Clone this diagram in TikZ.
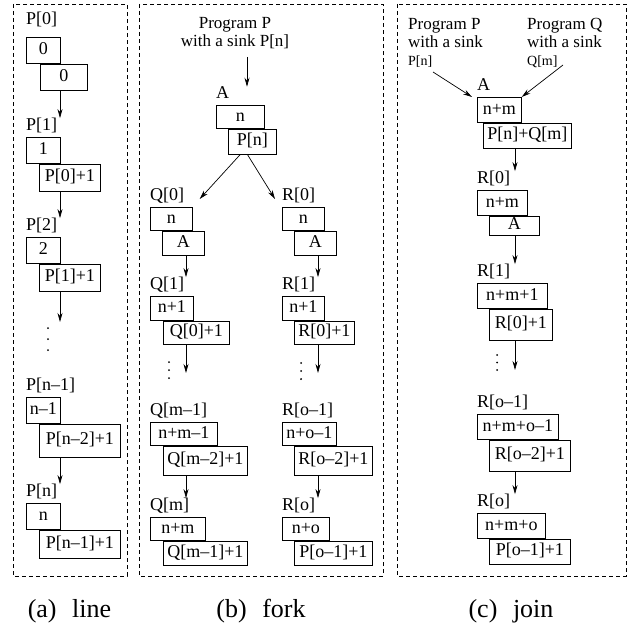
\documentclass[tikz,border=0pt]{standalone}
\usepackage{fontspec}
\setmainfont{Liberation Serif}
\usetikzlibrary{arrows.meta, positioning}

\begin{document}
\begin{tikzpicture}[
    x=1pt, y=1pt,
    box/.style={rectangle, draw, line width=0.7pt, inner sep=0pt, text height=12pt, text depth=3.5pt, anchor=north west, font=\fontsize{18}{19}\selectfont},
    sz/.style 2 args={minimum width=#1pt, minimum height=#2pt},
    lbl/.style={inner sep=0pt, text depth=3pt, font=\fontsize{18}{19}\selectfont},
    prog/.style={inner sep=0pt, font=\fontsize{17}{18}\selectfont},
    arrow/.style={-{Stealth[length=9pt, width=5pt]}, line width=0.7pt},
    frame/.style={dash pattern=on 4pt off 3pt, line width=0.6pt},
    captxt/.style={anchor=base, font=\fontsize{26}{28}\selectfont}
]
\useasboundingbox (0,0) rectangle (629,-626);

% frames
\draw[frame] (13,-4) rectangle (127,-576);
\draw[frame] (139,-4) rectangle (383,-576);
\draw[frame] (397,-4) rectangle (626,-576);

% (a) line
\node[box, sz={34}{26}] (p0a) at (26,-37) {0};
\node[box, sz={47}{26}, below right=0pt and 14pt of p0a.south west] (p0b) {0};
\node[lbl, above right=9pt and 0pt of p0a.north west] (p0l) {P[0]};

\node[box, sz={34}{26}] (p1a) at (26,-137) {1};
\node[box, sz={61}{27}, below right=0pt and 13pt of p1a.south west] (p1b) {P[0]+1};
\node[lbl, above right=3pt and 0pt of p1a.north west] (p1l) {P[1]};

\node[box, sz={34}{26}] (p2a) at (26,-237) {2};
\node[box, sz={61}{27}, below right=0pt and 13pt of p2a.south west] (p2b) {P[1]+1};
\node[lbl, above right=3pt and 0pt of p2a.north west] (p2l) {P[2]};

\coordinate (pdots) at (48,-328);
\fill (pdots) circle (1pt) ([yshift=-11pt]pdots) circle (1pt) ([yshift=-22pt]pdots) circle (1pt);

\node[box, sz={34}{26}] (pma) at (26,-397) {n--1};
\node[box, sz={81}{33}, below right=0pt and 13pt of pma.south west] (pmb) {P[n--2]+1};
\node[lbl, above right=3pt and 0pt of pma.north west] (pml) {P[n--1]};

\node[box, sz={34}{26}] (pna) at (26,-503) {n};
\node[box, sz={81}{28}, below right=0pt and 13pt of pna.south west] (pnb) {P[n--1]+1};
\node[lbl, above right=3pt and 0pt of pna.north west] (pnl) {P[n]};

\coordinate (px) at (60,0);
\coordinate (pend) at (60,-322);
\draw[arrow] (px |- p0b.south) -- (px |- p1l.north);
\draw[arrow] (px |- p1b.south) -- (px |- p2l.north);
\draw[arrow] (px |- p2b.south) -- (pend);
\draw[arrow] (px |- pmb.south) -- (px |- pnl.north);

% (b) fork
\node[prog, align=center, anchor=north] (progb) at (235,-17) {Program P\\with a sink P[n]};
\coordinate (inb) at (247,-57);

\node[box, sz={48}{23}] (ba) at (216,-105) {n};
\node[box, sz={48}{25}, below right=0pt and 12pt of ba.south west] (bb) {P[n]};
\node[lbl, above right=3pt and 0pt of ba.north west] (bal) {A};

\node[box, sz={42}{23}] (q0a) at (150,-207) {n};
\node[box, sz={42}{24}, below right=0pt and 12pt of q0a.south west] (q0b) {A};
\node[lbl, above right=3pt and 0pt of q0a.north west] (q0l) {Q[0]};

\node[box, sz={43}{24}] (q1a) at (150,-296) {n+1};
\node[box, sz={66}{23}, below right=0pt and 13pt of q1a.south west] (q1b) {Q[0]+1};
\node[lbl, above right=3pt and 0pt of q1a.north west] (q1l) {Q[1]};

\coordinate (qdots) at (169,-362);
\fill (qdots) circle (1pt) ([yshift=-8pt]qdots) circle (1pt) ([yshift=-16pt]qdots) circle (1pt);

\node[box, sz={67}{23}] (qma) at (150,-422) {n+m--1};
\node[box, sz={84}{29}, below right=0pt and 13pt of qma.south west] (qmb) {Q[m--2]+1};
\node[lbl, above right=3pt and 0pt of qma.north west] (qml) {Q[m--1]};

\node[box, sz={55}{23}] (qna) at (150,-517) {n+m};
\node[box, sz={84}{24}, below right=0pt and 13pt of qna.south west] (qnb) {Q[m--1]+1};
\node[lbl, above right=3pt and 0pt of qna.north west] (qnl) {Q[m]};

\node[box, sz={42}{23}] (r0a) at (282,-207) {n};
\node[box, sz={42}{24}, below right=0pt and 12pt of r0a.south west] (r0b) {A};
\node[lbl, above right=3pt and 0pt of r0a.north west] (r0l) {R[0]};

\node[box, sz={42}{24}] (r1a) at (282,-296) {n+1};
\node[box, sz={60}{23}, below right=0pt and 12pt of r1a.south west] (r1b) {R[0]+1};
\node[lbl, above right=3pt and 0pt of r1a.north west] (r1l) {R[1]};

\coordinate (rdots) at (301,-363);
\fill (rdots) circle (1pt) ([yshift=-8pt]rdots) circle (1pt) ([yshift=-16pt]rdots) circle (1pt);

\node[box, sz={54}{23}] (rma) at (282,-422) {n+o--1};
\node[box, sz={78}{29}, below right=0pt and 12pt of rma.south west] (rmb) {R[o--2]+1};
\node[lbl, above right=3pt and 0pt of rma.north west] (rml) {R[o--1]};

\node[box, sz={47}{23}] (rna) at (282,-517) {n+o};
\node[box, sz={78}{24}, below right=0pt and 12pt of rna.south west] (rnb) {P[o--1]+1};
\node[lbl, above right=3pt and 0pt of rna.north west] (rnl) {R[o]};

\draw[arrow] (inb) -- (inb |- bal.north);
\draw[arrow] ([xshift=-12pt]bb.south) -- ([shift={(7pt,8pt)}]q0a.north east);
\draw[arrow] ([xshift=-5pt]bb.south) -- ([shift={(-7pt,8pt)}]r0a.north west);

\coordinate (qx) at (186,0);
\coordinate (qend) at (186,-373);
\draw[arrow] (qx |- q0b.south) -- (qx |- q1l.north);
\draw[arrow] (qx |- q1b.south) -- (qend);
\draw[arrow] (qx |- qmb.south) -- (qx |- qnl.north);

\coordinate (rx) at (318,0);
\coordinate (rend) at (318,-373);
\draw[arrow] (rx |- r0b.south) -- (rx |- r1l.north);
\draw[arrow] (rx |- r1b.south) -- (rend);
\draw[arrow] (rx |- rmb.south) -- (rx |- rnl.north);

% (c) join
\node[prog, align=left, anchor=north west] (progp) at (408,-18) {Program P\\with a sink\\{\fontsize{14}{18}\selectfont P[n]}};
\node[prog, align=left, anchor=north west] (progq) at (527,-18) {Program Q\\with a sink\\{\fontsize{14}{18}\selectfont Q[m]}};
\coordinate (inp) at (433,-72);
\coordinate (inq) at (563,-65);

\node[box, sz={44}{25}] (ca) at (477,-97) {n+m};
\node[box, sz={88}{25}, below right=0pt and 6pt of ca.south west] (cb) {P[n]+Q[m]};
\node[lbl, above right=3pt and 0pt of ca.north west] (cal) {A};

\node[box, sz={50}{25}] (c0a) at (477,-190) {n+m};
\node[box, sz={50}{19}, below right=0pt and 12pt of c0a.south west] (c0b) {A};
\node[lbl, above right=3pt and 0pt of c0a.north west] (c0l) {R[0]};

\node[box, sz={70}{25}] (c1a) at (477,-283) {n+m+1};
\node[box, sz={63}{31}, below right=0pt and 12pt of c1a.south west] (c1b) {R[0]+1};
\node[lbl, above right=3pt and 0pt of c1a.north west] (c1l) {R[1]};

\coordinate (cdots) at (497,-355);
\fill (cdots) circle (1pt) ([yshift=-7.5pt]cdots) circle (1pt) ([yshift=-15pt]cdots) circle (1pt);

\node[box, sz={81}{25}] (cma) at (477,-414) {n+m+o--1};
\node[box, sz={81}{31}, below right=0pt and 12pt of cma.south west] (cmb) {R[o--2]+1};
\node[lbl, above right=3pt and 0pt of cma.north west] (cml) {R[o--1]};

\node[box, sz={68}{25}] (cna) at (477,-513) {n+m+o};
\node[box, sz={81}{25}, below right=0pt and 12pt of cna.south west] (cnb) {P[o--1]+1};
\node[lbl, above right=3pt and 0pt of cna.north west] (cnl) {R[o]};

\draw[arrow] (inp) -- ([xshift=-5pt]ca.north west);
\draw[arrow] (inq) -- (ca.north east);

\coordinate (cx) at (515,0);
\coordinate (cend) at (515,-370);
\draw[arrow] (cx |- cb.south) -- (cx |- c0l.north);
\draw[arrow] (cx |- c0b.south) -- (cx |- c1l.north);
\draw[arrow] (cx |- c1b.south) -- (cend);
\draw[arrow] (cx |- cmb.south) -- (cx |- cnl.north);

% captions
\node[captxt] (capa) at (69.5,-617) {(a)\hspace{0.6em}line};
\node[captxt] (capb) at (261,-617) {(b)\hspace{0.6em}fork};
\node[captxt] (capc) at (511,-617) {(c)\hspace{0.6em}join};

\end{tikzpicture}
\end{document}
